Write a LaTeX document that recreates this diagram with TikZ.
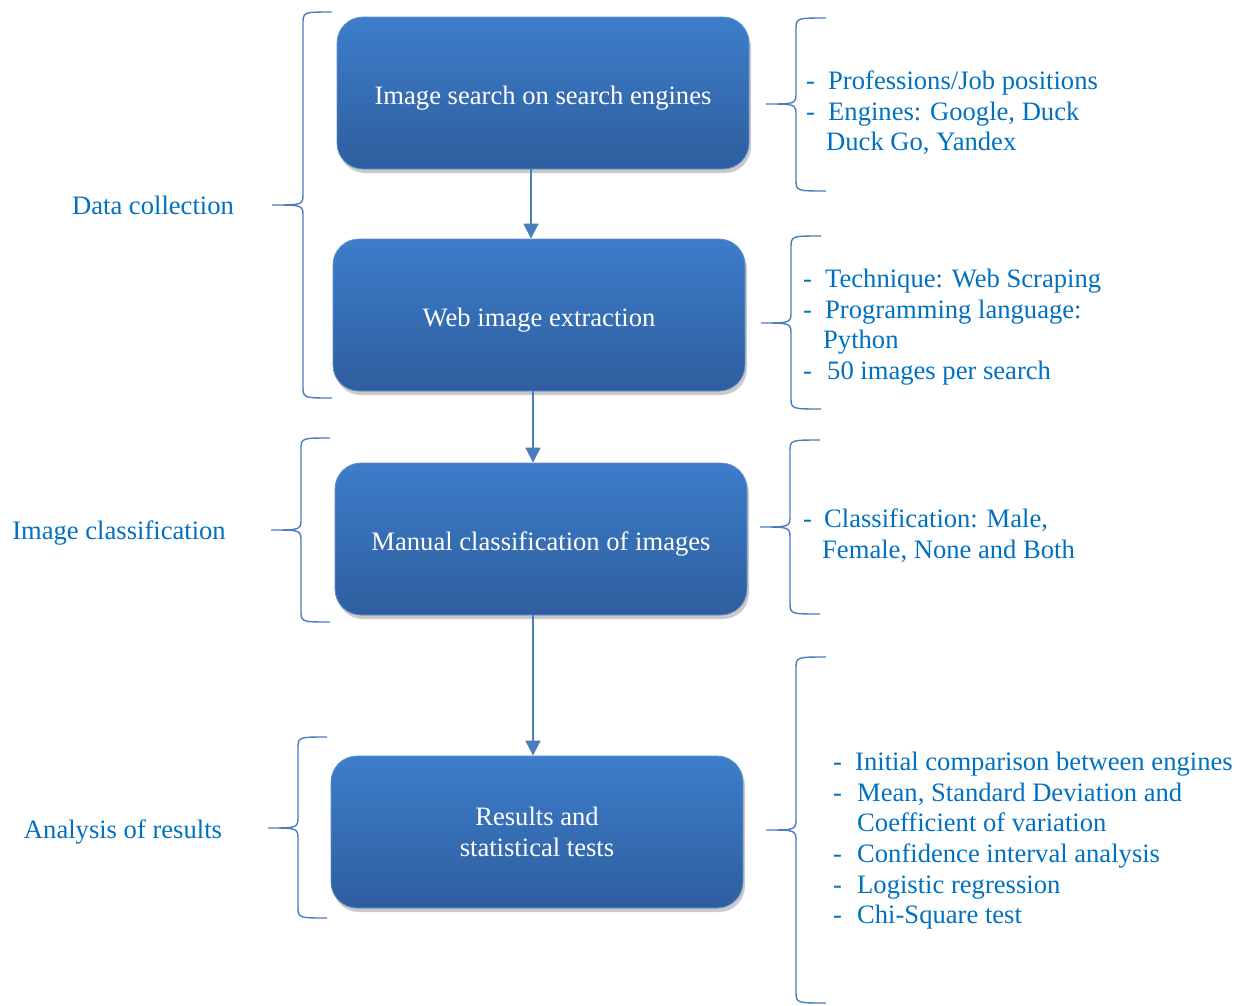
\documentclass[tikz,border=0pt]{standalone}
\usepackage{fontspec}
\setmainfont{Liberation Serif}
\usetikzlibrary{shadows,arrows.meta}
\definecolor{txtblue}{HTML}{0070C0}
\definecolor{linblue}{HTML}{4A7EBB}
\definecolor{boxtop}{HTML}{3D7DCA}
\definecolor{boxbot}{HTML}{2E5E9E}
\definecolor{boxedge}{HTML}{5F8FCF}
\tikzset{
  stepbox/.style={rounded corners=26pt, minimum width=412pt, minimum height=152pt,
    top color=boxtop, middle color=boxtop!85!boxbot, bottom color=boxbot, draw=boxedge, line width=0.8pt,
    text=white, font=\fontsize{26.6}{31}\selectfont, align=center, text height=22pt, text depth=0pt,
    drop shadow={shadow xshift=2pt, shadow yshift=-4pt, opacity=0.35, fill=black!60}},
  flow/.style={draw=linblue, line width=1.8pt, -{Triangle[length=15pt,width=15pt]}},
  brace/.style={draw=linblue, line width=1.4pt},
  lbl/.style={text=txtblue, font=\fontsize{26.6}{30.5}\selectfont, inner sep=0pt, text depth=0pt},
  item/.style={text=txtblue, font=\fontsize{26.6}{30.5}\selectfont, inner sep=0pt, anchor=base west, yshift=-1.5pt},
}
% left brace: #1 x of vertical, #2 tip x, #3 top y, #4 mid y, #5 bottom y, #6 end x
\newcommand{\mybrace}[6]{%
  \draw[brace] (#6,#3) .. controls (#1,#3) .. (#1,#3+12) -- (#1,#4-12)
    .. controls (#1,#4) .. (#2,#4) .. controls (#1,#4) .. (#1,#4+12)
    -- (#1,#5-12) .. controls (#1,#5) .. (#6,#5);}
\begin{document}
\begin{tikzpicture}[x=1pt,y=-1pt]
\useasboundingbox (0,0) rectangle (1243,1005);
% boxes
\node[stepbox] (b1) at (543,93) {Image search on search engines};
\node[stepbox] (b2) at (539,315) {Web image extraction};
\node[stepbox] (b3) at (541,539) {Manual classification of images};
\node[stepbox, text height=, text depth=] (b4) at (537,832) {Results and\\statistical tests};
% arrows
\draw[flow] (b1.south -| 531,0) -- (b2.north -| 531,0);
\draw[flow] (b2.south -| 533,0) -- (b3.north -| 533,0);
\draw[flow] (b3.south -| 533,0) -- (b4.north -| 533,0);
% left braces
\mybrace{303}{272}{12}{205}{398}{332}
\mybrace{301}{271}{438}{530}{622}{330}
\mybrace{298}{268}{737}{828}{918}{327}
% right braces
\mybrace{796}{766}{18}{104}{191}{826}
\mybrace{791}{761}{236}{323}{409}{821}
\mybrace{790}{760}{440}{527}{614}{820}
\mybrace{796}{766}{657}{830}{1003}{826}
% left labels
\node[lbl] (l1) at (153,205) {Data collection};
\node[lbl] (l2) at (119,530) {Image classification};
\node[lbl] (l3) at (123,829) {Analysis of results};
% right lists
\node[item] (r11) at (806,88) {\makebox[22pt][l]{-}Professions/Job positions};
\node[item] (r12) at (806,118.5) {\makebox[22pt][l]{-}Engines: Google, Duck};
\node[item] (r13) at (826,149) {Duck Go, Yandex};
\node[item] (r21) at (803,286) {\makebox[22pt][l]{-}Technique: Web Scraping};
\node[item] (r22) at (803,316.5) {\makebox[22pt][l]{-}Programming language:};
\node[item] (r23) at (823,347) {Python};
\node[item] (r24) at (803,378) {\makebox[24pt][l]{-}50 images per search};
\node[item] (r31) at (803,526) {\makebox[21pt][l]{-}Classification: Male,};
\node[item] (r32) at (822,556.5) {Female, None and Both};
\node[item] (r41) at (833,769) {\makebox[22pt][l]{-}Initial comparison between engines};
\node[item] (r42) at (833,800) {\makebox[24pt][l]{-}Mean, Standard Deviation and};
\node[item] (r43) at (857,830) {Coefficient of variation};
\node[item] (r44) at (833,861) {\makebox[24pt][l]{-}Confidence interval analysis};
\node[item] (r45) at (833,892) {\makebox[24pt][l]{-}Logistic regression};
\node[item] (r46) at (833,922) {\makebox[24pt][l]{-}Chi-Square test};
\end{tikzpicture}
\end{document}
